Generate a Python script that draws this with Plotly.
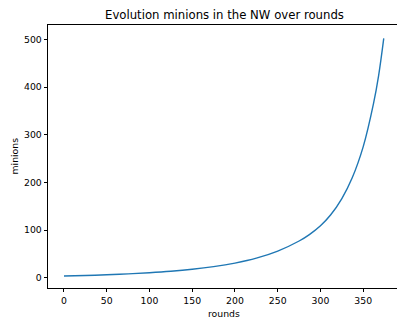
import plotly.graph_objects as go

rounds = [0, 25, 50, 75, 100, 125, 150, 175, 200, 225, 250, 275, 287, 300,
          312, 325, 337, 350, 362, 368, 374]
minions = [3.5, 4.63, 6.13, 8.03, 10.5, 13.6, 17.7, 23.2, 30.7, 41, 55.9, 77, 90.5,
           109, 132, 166, 209, 275, 365, 424, 502]
x_ticks = [0, 50, 100, 150, 200, 250, 300, 350]
y_ticks = [0, 100, 200, 300, 400, 500]

FONT = "DejaVu Sans"

fig = go.Figure()
fig.add_trace(go.Scatter(
    x=rounds, y=minions, mode="lines",
    line=dict(color="#1f77b4", width=1.4, shape="spline", smoothing=1.0),
    hoverinfo="skip", showlegend=False,
))

axis_common = dict(
    showgrid=False, zeroline=False, showline=True, linecolor="#000000",
    linewidth=0.8, ticks="outside", ticklen=3.5, tickwidth=0.8,
    tickcolor="#000000", tickfont=dict(family=FONT, size=9.3, color="#000000"),
)

fig.update_layout(
    width=397, height=320,
    margin=dict(l=48, r=0, t=25, b=32),
    paper_bgcolor="white", plot_bgcolor="white",
    font=dict(family=FONT, color="#000000"),
    xaxis=dict(range=[-18.7, 389.5], tickvals=x_ticks, mirror=True, **axis_common),
    yaxis=dict(range=[-21.6, 530.1], tickvals=y_ticks, mirror=False, **axis_common),
    annotations=[
        dict(text="Evolution minions in the NW over rounds", xref="paper", yref="paper",
             x=0.505, y=1, yshift=10, showarrow=False, xanchor="center", yanchor="middle",
             font=dict(family=FONT, size=11.7, color="#000000")),
        dict(text="rounds", xref="paper", yref="paper", x=0.505, y=0, yshift=-25,
             showarrow=False, xanchor="center", yanchor="middle",
             font=dict(family=FONT, size=9.3, color="#000000")),
        dict(text="minions", xref="paper", yref="paper", x=0, xshift=-34, y=0.5,
             showarrow=False, xanchor="center", yanchor="middle", textangle=-90,
             font=dict(family=FONT, size=9.3, color="#000000")),
    ],
)

fig.write_html("out.html")
